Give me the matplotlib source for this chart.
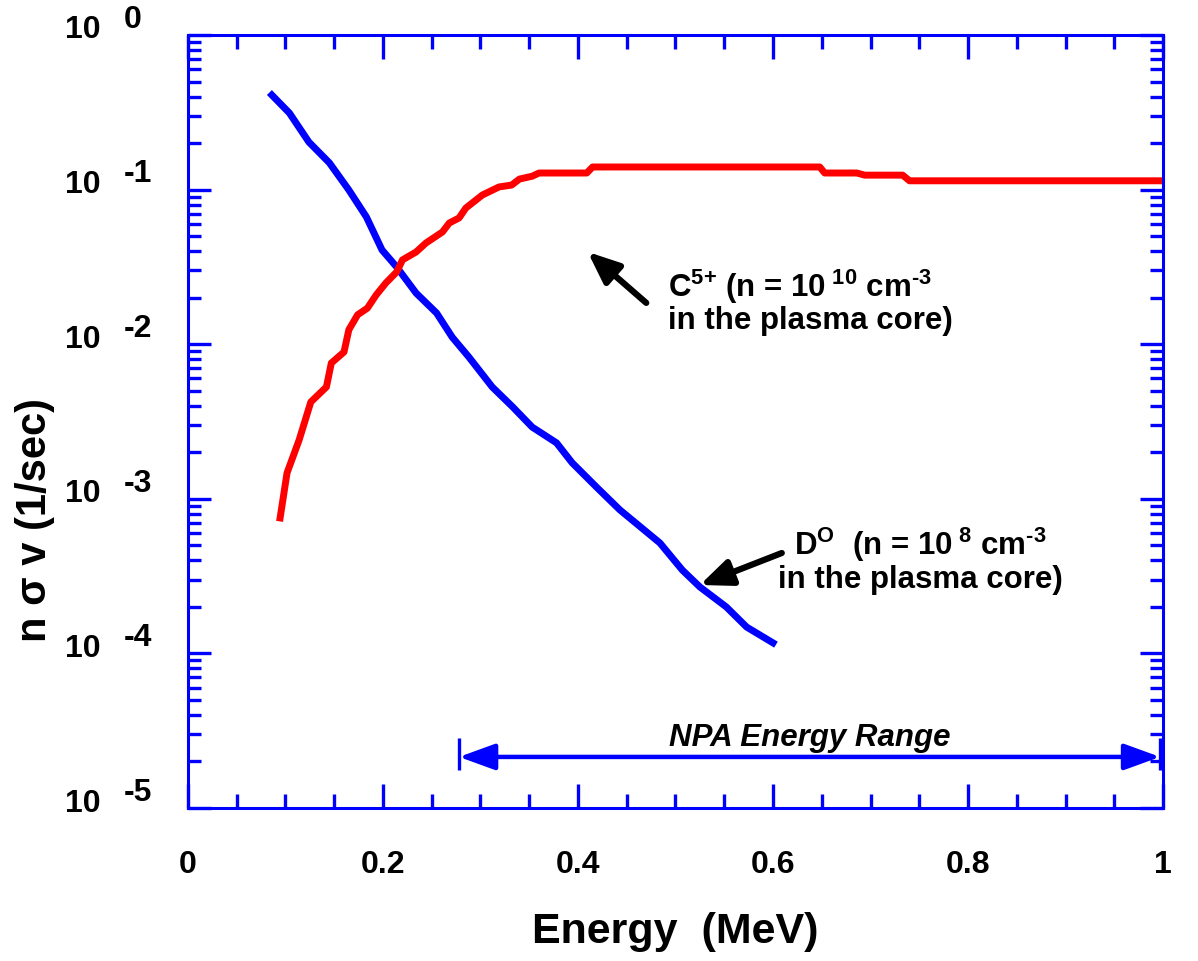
import matplotlib
matplotlib.use("Agg")
import matplotlib.pyplot as plt
import matplotlib.transforms as mtransforms
from matplotlib.ticker import LogLocator, MultipleLocator, NullFormatter

# values (energy in MeV, rate in 1/sec)
d0_energy = [0.086, 0.104, 0.124, 0.145, 0.165, 0.183, 0.199, 0.214, 0.234, 0.255, 0.271, 0.288,
             0.312, 0.333, 0.353, 0.378, 0.394, 0.419, 0.443, 0.484, 0.507, 0.525, 0.552, 0.573, 0.600]
d0_rate = [0.409, 0.313, 0.203, 0.149, 0.0994, 0.0665, 0.0407, 0.0316, 0.0214, 0.0159, 0.0111, 0.00827,
           0.00529, 0.00393, 0.00291, 0.00230, 0.00171, 0.00119, 0.000847, 0.000518, 0.000346, 0.000269,
           0.000200, 0.000148, 0.000117]

c5_energy = [0.0945, 0.1016, 0.114, 0.126, 0.142, 0.147, 0.160, 0.165, 0.174, 0.184, 0.193, 0.203, 0.214,
             0.220, 0.234, 0.244, 0.261, 0.268, 0.278, 0.285, 0.302, 0.319, 0.332, 0.340, 0.353, 0.360,
             0.409, 0.415, 0.648, 0.653, 0.686, 0.694, 0.733, 0.740, 1.0]
c5_rate = [7.52e-4, 1.47e-3, 2.40e-3, 4.23e-3, 5.29e-3, 7.55e-3, 8.90e-3, 1.24e-2, 1.55e-2, 1.71e-2,
           2.08e-2, 2.49e-2, 2.93e-2, 3.51e-2, 3.95e-2, 4.51e-2, 5.32e-2, 6.08e-2, 6.55e-2, 7.60e-2,
           9.23e-2, 0.104, 0.107, 0.117, 0.122, 0.128, 0.128, 0.140, 0.140, 0.128, 0.128, 0.124, 0.124,
           0.114, 0.114]

npa_range = [0.278, 0.997]
npa_level = 2.14e-5

x_ticks = [0, 0.2, 0.4, 0.6, 0.8, 1.0]
x_tick_labels = ['0', '0.2', '0.4', '0.6', '0.8', '1']
y_decades = [-5, -4, -3, -2, -1, 0]

plt.rcParams['font.family'] = ['Liberation Sans', 'DejaVu Sans']
plt.rcParams['font.weight'] = 'bold'
plt.rcParams['mathtext.fontset'] = 'custom'
plt.rcParams['mathtext.rm'] = 'Liberation Sans:bold'
plt.rcParams['mathtext.it'] = 'Liberation Sans:bold'
plt.rcParams['mathtext.bf'] = 'Liberation Sans:bold'
plt.rcParams['mathtext.default'] = 'rm'


def main():
    fig = plt.figure(figsize=(11.98, 9.61), dpi=100)
    ax = fig.add_axes([0.1569, 0.1592, 0.8139, 0.8044])

    ax.plot(d0_energy, d0_rate, color='#0000ff', lw=5, solid_joinstyle='round')
    ax.plot(c5_energy, c5_rate, color='#ff0000', lw=5, solid_joinstyle='round')

    ax.set_yscale('log')
    ax.set_xlim(0, 1)
    ax.set_ylim(1e-5, 1)

    # axes frame and ticks in blue, all pointing inwards
    for sp in ax.spines.values():
        sp.set_color('#0000ff')
        sp.set_linewidth(2.2)
    ax.xaxis.set_major_locator(MultipleLocator(0.2))
    ax.xaxis.set_minor_locator(MultipleLocator(0.05))
    ax.set_xticks(x_ticks)
    ax.set_xticklabels(x_tick_labels)
    ax.set_yticks([10.0 ** e for e in y_decades])
    ax.set_yticklabels(['10'] * len(y_decades))
    ax.yaxis.set_minor_locator(LogLocator(base=10, subs=range(2, 10)))
    ax.yaxis.set_minor_formatter(NullFormatter())
    ax.tick_params(which='both', direction='in', color='#0000ff', width=2.4,
                   top=True, right=True, labelsize=23)
    ax.tick_params(axis='x', which='major', length=17, pad=30)
    ax.tick_params(axis='x', which='minor', length=10)
    ax.tick_params(axis='y', which='major', length=16.5, pad=63)
    ax.tick_params(axis='y', which='minor', length=9.5)

    # shift the "10" a little up, then put the exponents beside it
    up = mtransforms.ScaledTranslation(0, 8 / 100, fig.dpi_scale_trans)
    for lab in ax.get_yticklabels():
        lab.set_transform(lab.get_transform() + up)
    for e in y_decades:
        ax.annotate(f'{e}', xy=(0, 10.0 ** e), xycoords=('axes fraction', 'data'),
                    xytext=(-46, 11), textcoords='offset points',
                    ha='left', va='center', fontsize=23, fontweight='bold')

    ax.set_xlabel('Energy  (MeV)', fontsize=31, fontweight='bold')
    ax.xaxis.set_label_coords(0.5, -0.135)
    ax.set_ylabel('n σ v (1/sec)', fontsize=30, fontweight='bold')
    ax.yaxis.set_label_coords(-0.136, 0.373)

    # labels for the two curves
    arrow_kw = dict(arrowstyle='-|>,head_length=19,head_width=8', mutation_scale=1,
                    color='black', lw=4.5, shrinkA=0, shrinkB=0)
    ax.annotate('', xy=(0.410, 0.0395), xytext=(0.470, 0.0185), arrowprops=arrow_kw)
    ax.text(0.492, 0.0202, r'C$^{\text{5+}}$ (n = 10$^{\ 10}$ cm$^{\text{-3}}$', fontsize=22.5,
            fontweight='bold', ha='left', va='baseline')
    ax.text(0.492, 0.01254, 'in the plasma core)', fontsize=22.5,
            fontweight='bold', ha='left', va='baseline')

    ax.annotate('', xy=(0.525, 2.77e-4), xytext=(0.609, 4.46e-4), arrowprops=arrow_kw)
    ax.text(0.622, 4.33e-4, r'D$^{\mathrm{O}}$  (n = 10$^{\ 8}$ cm$^{\text{-3}}$', fontsize=22.5,
            fontweight='bold', ha='left', va='baseline')
    ax.text(0.605, 2.65e-4, 'in the plasma core)', fontsize=22.5,
            fontweight='bold', ha='left', va='baseline')

    # NPA energy range bar
    ax.annotate('', xy=(npa_range[0], npa_level), xytext=(npa_range[1], npa_level),
                arrowprops=dict(arrowstyle='<|-|>,head_length=22,head_width=8', mutation_scale=1,
                                color='#0000ff', lw=3.2, shrinkA=0, shrinkB=0))
    ax.vlines(npa_range, npa_level * 0.82, npa_level * 1.32, color='#0000ff', lw=2.4)
    ax.text(sum(npa_range) / 2, 2.52e-5, 'NPA Energy Range', fontsize=22.5,
            fontweight='bold', style='italic', ha='center', va='baseline')

    fig.savefig('out.png', dpi=100)


if __name__ == "__main__":
    main()
